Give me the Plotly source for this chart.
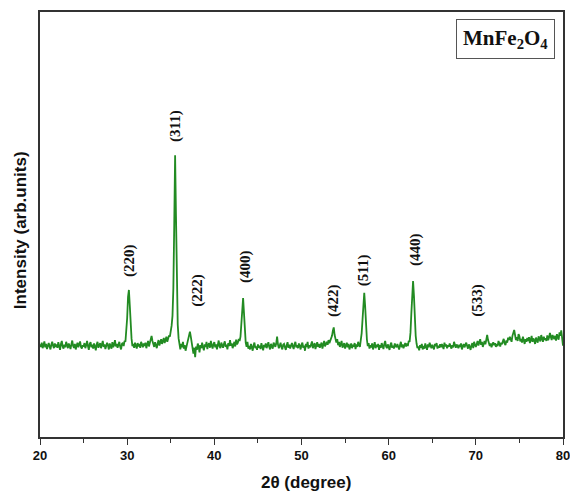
import numpy as np
import plotly.graph_objects as go

# XRD pattern sampled every 0.1 degree from 20.0 to 80.0 (2theta), intensity in arb. units
two_theta_start = 20.0
two_theta_step = 0.1
intensity_rows = [
    [218, 212, 222, 209, 216, 225, 211, 219, 207, 214],  # 20
    [221, 213, 206, 217, 224, 215, 209, 220, 212, 218],  # 21
    [210, 223, 214, 205, 219, 226, 213, 208, 217, 211],  # 22
    [224, 216, 209, 220, 213, 207, 218, 227, 214, 210],  # 23
    [219, 206, 215, 222, 211, 217, 225, 212, 208, 216],  # 24
    [213, 221, 209, 216, 226, 214, 205, 219, 223, 211],  # 25
    [217, 208, 220, 213, 204, 218, 224, 210, 215, 221],  # 26
    [209, 216, 226, 212, 218, 207, 213, 222, 215, 206],  # 27
    [220, 214, 208, 223, 211, 217, 228, 213, 219, 210],  # 28
    [215, 224, 212, 206, 219, 222, 214, 226, 224, 245],  # 29
    [280, 330, 346, 310, 262, 232, 214, 219, 210, 222],  # 30
    [215, 208, 221, 213, 219, 210, 224, 216, 211, 220],  # 31
    [214, 222, 209, 218, 226, 213, 220, 228, 238, 226],  # 32
    [218, 212, 223, 216, 209, 221, 228, 215, 222, 230],  # 33
    [219, 226, 233, 221, 228, 236, 224, 231, 239, 236],  # 34
    [246, 262, 285, 350, 500, 663, 520, 340, 265, 232],  # 35
    [214, 206, 219, 211, 224, 208, 216, 203, 212, 220],  # 36
    [228, 238, 248, 236, 218, 207, 196, 210, 188, 213],  # 37
    [205, 220, 213, 199, 216, 209, 222, 211, 204, 218],  # 38
    [212, 224, 207, 217, 221, 210, 226, 215, 208, 219],  # 39
    [223, 211, 218, 206, 220, 227, 213, 209, 222, 216],  # 40
    [210, 219, 225, 212, 217, 206, 221, 214, 228, 215],  # 41
    [220, 209, 216, 224, 213, 229, 218, 222, 231, 226],  # 42
    [236, 262, 305, 327, 292, 248, 222, 212, 224, 208],  # 43
    [214, 206, 219, 211, 203, 216, 222, 209, 213, 205],  # 44
    [218, 210, 215, 207, 221, 212, 204, 217, 211, 220],  # 45
    [209, 216, 223, 212, 206, 219, 214, 208, 222, 215],  # 46
    [212, 220, 236, 218, 209, 215, 222, 211, 206, 217],  # 47
    [219, 211, 205, 216, 223, 210, 217, 208, 214, 221],  # 48
    [213, 207, 218, 224, 211, 216, 209, 220, 214, 206],  # 49
    [217, 222, 210, 215, 203, 219, 212, 224, 208, 216],  # 50
    [211, 218, 225, 209, 214, 221, 207, 216, 223, 212],  # 51
    [219, 210, 216, 222, 208, 215, 226, 213, 219, 224],  # 52
    [217, 228, 221, 226, 232, 238, 250, 258, 240, 228],  # 53
    [222, 230, 216, 224, 212, 219, 226, 210, 217, 221],  # 54
    [208, 215, 222, 211, 219, 206, 214, 220, 209, 217],  # 55
    [213, 221, 207, 218, 212, 224, 216, 212, 228, 244],  # 56
    [276, 322, 339, 308, 258, 230, 214, 221, 208, 216],  # 57
    [211, 220, 206, 214, 223, 209, 217, 212, 219, 205],  # 58
    [216, 210, 221, 214, 207, 219, 226, 213, 209, 218],  # 59
    [212, 205, 217, 222, 210, 215, 208, 220, 214, 211],  # 60
    [219, 213, 206, 216, 224, 211, 218, 209, 215, 221],  # 61
    [213, 220, 214, 226, 224, 245, 290, 348, 367, 332],  # 62
    [272, 238, 220, 209, 213, 204, 216, 210, 219, 206],  # 63
    [214, 208, 220, 213, 205, 218, 211, 222, 215, 209],  # 64
    [217, 212, 206, 219, 214, 221, 208, 215, 210, 218],  # 65
    [211, 219, 214, 207, 222, 213, 218, 209, 216, 212],  # 66
    [220, 213, 208, 216, 211, 224, 215, 210, 218, 214],  # 67
    [209, 217, 212, 220, 206, 213, 219, 211, 215, 222],  # 68
    [214, 208, 218, 212, 205, 216, 221, 209, 224, 217],  # 69
    [212, 219, 226, 215, 221, 230, 217, 224, 212, 220],  # 70
    [226, 218, 232, 240, 228, 222, 214, 220, 211, 218],  # 71
    [223, 216, 221, 212, 219, 214, 226, 220, 213, 222],  # 72
    [218, 225, 231, 220, 216, 227, 222, 234, 228, 236],  # 73
    [229, 224, 238, 247, 252, 240, 228, 235, 226, 242],  # 74
    [237, 225, 231, 222, 236, 228, 219, 230, 224, 233],  # 75
    [226, 235, 221, 229, 238, 224, 232, 227, 219, 234],  # 76
    [228, 222, 237, 230, 225, 240, 231, 224, 236, 229],  # 77
    [232, 226, 239, 228, 234, 245, 236, 228, 240, 233],  # 78
    [230, 238, 227, 242, 235, 229, 246, 238, 251, 234],  # 79
    [215],                                               # 80.0
]

# Miller index labels
peak_labels = ["(220)", "(311)", "(222)", "(400)", "(422)", "(511)", "(440)", "(533)"]
label_x = [30.2, 35.6, 38.1, 43.5, 53.6, 57.2, 63.0, 70.2]
label_y = [416, 732, 346, 402, 322, 393, 442, 322]

x_ticks = [20, 30, 40, 50, 60, 70, 80]

intensity = [v for row in intensity_rows for v in row]
two_theta = two_theta_start + two_theta_step * np.arange(len(intensity))

fig = go.Figure()
fig.add_trace(go.Scatter(
    x=two_theta, y=intensity, mode="lines",
    line=dict(color="#228B22", width=1.8),
    showlegend=False, hoverinfo="skip",
))

serif_bold = dict(family="Liberation Serif, Times New Roman, serif", size=15, color="#111111", weight="bold")
for t, lx, ly in zip(peak_labels, label_x, label_y):
    fig.add_annotation(
        x=lx, y=ly, xref="x", yref="y", text=t, showarrow=False, textangle=-90,
        font=serif_bold, xanchor="center", yanchor="middle",
    )

fig.add_annotation(
    x=0.89, y=0.936, xref="paper", yref="paper",
    text="MnFe<sub>2</sub>O<sub>4</sub>", showarrow=False,
    font=dict(family="Liberation Serif, Times New Roman, serif", size=21, color="#111111", weight="bold"),
    bordercolor="#555555", borderwidth=1, borderpad=6, bgcolor="white",
    xanchor="center", yanchor="middle",
)

axis_font = dict(family="Liberation Sans, Arial, sans-serif", size=13, color="#111111", weight="bold")
title_font = dict(family="Liberation Sans, Arial, sans-serif", size=17, color="#111111", weight="bold")

# axis titles
fig.add_annotation(x=0.508, y=-0.106, xref="paper", yref="paper", text="2θ (degree)",
                   showarrow=False, font=title_font, xanchor="center", yanchor="middle")
fig.add_annotation(x=-0.038, y=0.487, xref="paper", yref="paper", text="Intensity (arb.units)",
                   showarrow=False, font=title_font, textangle=-90, xanchor="center", yanchor="middle")

fig.update_layout(
    width=570, height=495,
    margin=dict(l=40, r=7, t=12, b=58, autoexpand=False),
    paper_bgcolor="white", plot_bgcolor="white",
    xaxis=dict(
        range=[20, 80], tickvals=x_ticks, ticktext=[str(v) for v in x_ticks],
        ticks="outside", ticklen=6, tickwidth=1.3, tickcolor="#333333",
        minor=dict(dtick=5, ticks="outside", ticklen=4, tickwidth=1.3, tickcolor="#333333", showgrid=False),
        showline=True, linecolor="#333333", linewidth=1.5, mirror=True,
        showgrid=False, zeroline=False, tickfont=axis_font, automargin=False,
        ticklabeloverflow="allow",
    ),
    yaxis=dict(
        range=[0, 1000], showticklabels=False, ticks="",
        showline=True, linecolor="#333333", linewidth=1.5, mirror=True,
        showgrid=False, zeroline=False, automargin=False,
    ),
)

fig.write_html("out.html", config={"displayModeBar": False},
               post_script="document.body.style.margin='0px';document.body.style.overflow='hidden';")
